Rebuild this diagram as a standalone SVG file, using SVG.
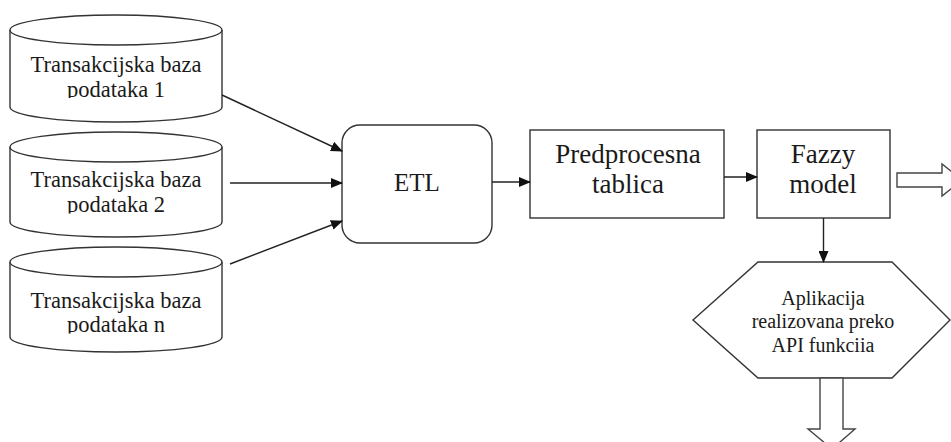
<svg xmlns="http://www.w3.org/2000/svg" width="951" height="442" viewBox="0 0 951 442">
<style>
.shape{fill:#fff;stroke:#333;stroke-width:1.4}
.conn{fill:none;stroke:#222;stroke-width:1.4}
.hollow{fill:#fff;stroke:#444;stroke-width:1.4;stroke-linejoin:miter}
text{font-family:"Liberation Serif","Times New Roman",serif;fill:#1a1a1a;text-anchor:middle}
.db{font-size:22.5px}
.big{font-size:27px}
.hex{font-size:20px}
</style>
<defs>
<marker id="ah" markerUnits="userSpaceOnUse" markerWidth="12" markerHeight="10" refX="11" refY="5" orient="auto">
<path d="M0,0 L12,5 L0,10 z" fill="#111"/>
</marker>
<clipPath id="c1"><rect x="0" y="0" width="240" height="98"/></clipPath>
<clipPath id="c2"><rect x="0" y="120" width="240" height="93.5"/></clipPath>
<clipPath id="c3"><rect x="0" y="240" width="240" height="93.5"/></clipPath>
</defs>

<g id="db1">
<path class="shape" d="M10,30 L10,107 A106,15 0 0 0 222,107 L222,30"/>
<ellipse class="shape" cx="116" cy="30" rx="106" ry="15"/>
<g clip-path="url(#c1)">
<text class="db" x="116" y="72">Transakcijska baza</text>
<text class="db" x="116" y="97">podataka 1</text>
</g>
</g>

<g id="db2">
<path class="shape" d="M10,147 L10,222 A106,15 0 0 0 222,222 L222,147"/>
<ellipse class="shape" cx="116" cy="147" rx="106" ry="15"/>
<g clip-path="url(#c2)">
<text class="db" x="116" y="187">Transakcijska baza</text>
<text class="db" x="116" y="212">podataka 2</text>
</g>
</g>

<g id="db3">
<path class="shape" d="M10,262 L10,337 A106,15 0 0 0 222,337 L222,262"/>
<ellipse class="shape" cx="116" cy="262" rx="106" ry="15"/>
<g clip-path="url(#c3)">
<text class="db" x="116" y="308">Transakcijska baza</text>
<text class="db" x="116" y="332">podataka n</text>
</g>
</g>

<g id="etl">
<rect class="shape" x="342" y="125" width="150" height="118" rx="18" ry="18"/>
<text x="417" y="191" style="font-size:25px">ETL</text>
</g>

<g id="predprocesna">
<rect class="shape" x="530" y="130" width="194" height="88"/>
<text class="big" x="628" y="163">Predprocesna</text>
<text class="big" x="628" y="193">tablica</text>
</g>

<g id="fazzy">
<rect class="shape" x="757" y="130" width="133" height="88"/>
<text class="big" x="823" y="163">Fazzy</text>
<text class="big" x="823" y="193">model</text>
</g>

<g id="aplikacija">
<polygon class="shape" points="693,320 758,262 892,262 950,320 892,378 758,378"/>
<text class="hex" x="823" y="305">Aplikacija</text>
<text class="hex" x="823" y="328">realizovana preko</text>
<text class="hex" x="823" y="352">API funkciia</text>
</g>

<g id="connectors">
<line class="conn" x1="222" y1="95" x2="342" y2="151" marker-end="url(#ah)"/>
<line class="conn" x1="230" y1="183" x2="342" y2="183" marker-end="url(#ah)"/>
<line class="conn" x1="230" y1="264" x2="342" y2="221" marker-end="url(#ah)"/>
<line class="conn" x1="492" y1="182" x2="530" y2="182" marker-end="url(#ah)"/>
<line class="conn" x1="724" y1="177" x2="757" y2="177" marker-end="url(#ah)"/>
<line class="conn" x1="823.5" y1="218" x2="823.5" y2="262" marker-end="url(#ah)"/>
<polygon class="hollow" points="897,173 942,173 942,164 962,180 942,196 942,187 897,187"/>
<polygon class="hollow" points="820,378 843,378 843,429 855,429 832,449 808,429 820,429"/>
</g>
</svg>
